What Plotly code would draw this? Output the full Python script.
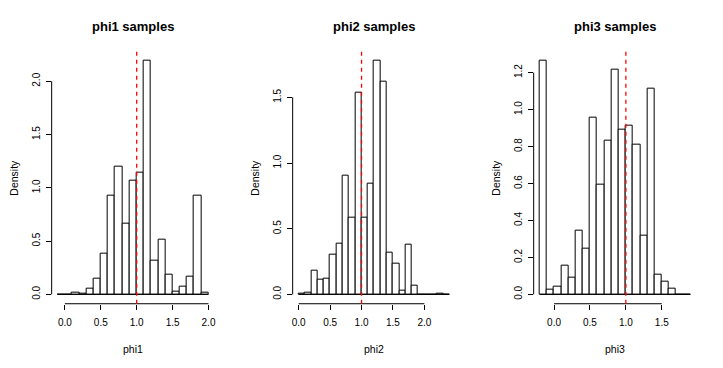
import plotly.graph_objects as go

W, H = 723, 368

# histogram densities (bin width 0.1)
phi1_start = -0.1
phi1_dens = [0, 0, 0.015, 0.01, 0.055, 0.145, 0.38, 0.93, 1.2, 0.66, 1.07,
             1.14, 2.19, 0.32, 0.515, 0.185, 0.03, 0.07, 0.165, 0.925, 0.015]
phi2_start = 0.0
phi2_dens = [0.005, 0.013, 0.183, 0.112, 0.122, 0.303, 0.39, 0.905, 0.587,
             1.538, 0.585, 0.844, 1.777, 1.622, 0.318, 0.234, 0.025, 0.379,
             0.069, 0, 0, 0, 0.003, 0]
phi3_start = -0.2
phi3_dens = [1.263, 0.0235, 0.04, 0.155, 0.092, 0.343, 0.248, 0.958, 0.593,
             0.831, 1.216, 0.893, 0.913, 0.811, 0.316, 1.113, 0.105, 0.069,
             0.033, 0, 0]
bin_width = 0.1
true_value = 1.0

x_ticks = [[0.0, 0.5, 1.0, 1.5, 2.0], [0.0, 0.5, 1.0, 1.5, 2.0], [0.0, 0.5, 1.0, 1.5]]
y_ticks = [[0.0, 0.5, 1.0, 1.5, 2.0], [0.0, 0.5, 1.0, 1.5],
           [0.0, 0.2, 0.4, 0.6, 0.8, 1.0, 1.2]]
names = ["phi1", "phi2", "phi3"]

panels = [(phi1_start, phi1_dens), (phi2_start, phi2_dens), (phi3_start, phi3_dens)]

FONT = "Liberation Sans, Arial, Helvetica, sans-serif"
LINE = 12.6  # R margin line height in px
fig = go.Figure()

y_bot = 1 - (H - 5.1 * LINE) / H
y_top = 1 - 4.1 * LINE / H

for i, (start, dens) in enumerate(panels):
    n = len(dens)
    edges = [start + k * bin_width for k in range(n + 1)]
    mids = [start + (k + 0.5) * bin_width for k in range(n)]
    xa = "x" if i == 0 else f"x{i + 1}"
    ya = "y" if i == 0 else f"y{i + 1}"

    # baseline of the histogram (R draws the bottom edge of every rect)
    fig.add_trace(go.Scatter(x=[edges[0], edges[-1]], y=[0, 0], mode="lines",
                             line=dict(color="black", width=1), xaxis=xa, yaxis=ya,
                             showlegend=False, hoverinfo="skip"))
    fig.add_trace(go.Bar(x=mids, y=dens, width=bin_width, xaxis=xa, yaxis=ya,
                         marker=dict(color="white", line=dict(color="black", width=1)),
                         showlegend=False))

    lo, hi = edges[0], edges[-1]
    xr = [lo - 0.04 * (hi - lo), hi + 0.04 * (hi - lo)]
    ymax = max(dens)
    yr = [-0.04 * ymax, 1.04 * ymax]

    left = (241 * i + 4.1 * LINE) / W
    right = (241 * i + 241 - 2.1 * LINE) / W
    sfx = "" if i == 0 else str(i + 1)
    fig.layout["xaxis" + sfx] = dict(
        domain=[left, right], range=xr, anchor=ya, showgrid=False, zeroline=False,
        showline=False, ticks="outside", ticklen=5, tickcolor="black",
        tickvals=x_ticks[i], tickformat=".1f", ticklabelstandoff=4, automargin=False,
        tickfont=dict(family=FONT, size=10, color="black"))
    fig.layout["yaxis" + sfx] = dict(
        domain=[y_bot, y_top], range=yr, anchor=xa, showgrid=False, zeroline=False,
        showline=False, ticks="outside", ticklen=5, tickcolor="black",
        tickvals=y_ticks[i], tickformat=".1f", tickangle=-90, ticklabelstandoff=2,
        automargin=False, tickfont=dict(family=FONT, size=10, color="black"))

    # R-style axis lines: from first to last tick only
    fig.add_shape(type="line", xref=xa, yref=f"{ya} domain",
                  x0=x_ticks[i][0], x1=x_ticks[i][-1], y0=0, y1=0,
                  line=dict(color="black", width=1))
    fig.add_shape(type="line", xref=f"{xa} domain", yref=ya,
                  x0=0, x1=0, y0=y_ticks[i][0], y1=y_ticks[i][-1],
                  line=dict(color="black", width=1))
    # true value
    fig.add_shape(type="line", xref=xa, yref=f"{ya} domain",
                  x0=true_value, x1=true_value, y0=0, y1=1,
                  line=dict(color="red", width=1.3, dash="4px,4px"))

    cx = (left + right) / 2
    fig.add_annotation(text=f"<b>{names[i]} samples</b>", xref="paper", yref="paper",
                       x=cx, y=1 - 26.5 / H, xanchor="center", yanchor="middle",
                       showarrow=False, font=dict(family=FONT, size=13, color="black"))
    fig.add_annotation(text=names[i], xref="paper", yref="paper",
                       x=cx, y=1 - 349 / H, xanchor="center", yanchor="middle",
                       showarrow=False, font=dict(family=FONT, size=10.5, color="black"))
    fig.add_annotation(text="Density", xref="paper", yref="paper",
                       x=(241 * i + 14) / W, y=(y_bot + y_top) / 2, textangle=-90,
                       xanchor="center", yanchor="middle",
                       showarrow=False, font=dict(family=FONT, size=10.5, color="black"))

fig.update_layout(width=W, height=H, margin=dict(l=0, r=0, t=0, b=0),
                  paper_bgcolor="white", plot_bgcolor="white", bargap=0)
# drop the page's default body margin so the figure sits at the window's corner
fig.write_html("out.html", config={"displayModeBar": False},
               post_script="document.body.style.margin='0';")
